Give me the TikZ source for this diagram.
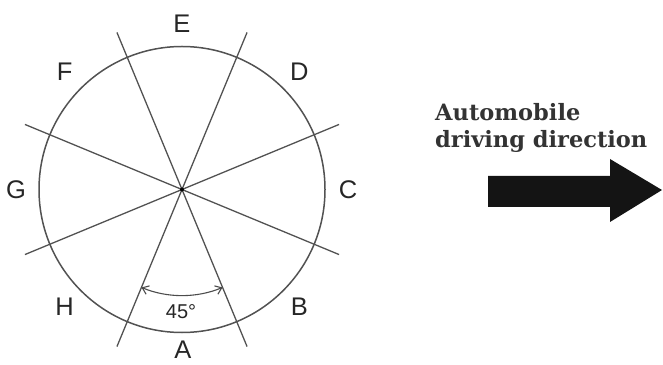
\documentclass[tikz,border=0pt]{standalone}
\usepackage{fontspec}
\setmainfont{Liberation Sans}
\newfontfamily\capfont{DejaVu Serif}
\usetikzlibrary{arrows.meta,calc}
\tikzset{
  circline/.style={draw=black!68, line width=1.5pt},
  lbl/.style={font=\fontsize{25.5}{25.5}\selectfont, text=black!85, inner sep=0pt},
  anglearc/.style={draw=black!70, line width=1.1pt, {Straight Barb[length=6pt,width=9pt]}-{Straight Barb[length=6pt,width=9pt]}},
  bigarrow/.style={fill=black!92, draw=none},
}
\begin{document}
\begin{tikzpicture}[x=1pt,y=1pt]
\useasboundingbox (0,0) rectangle (663,364);
\coordinate (c) at (182,174.5);
\draw[circline] (c) circle (143);
\foreach \a/\n in {22.5/l1,67.5/l2,112.5/l3,157.5/l4}{
  \coordinate (\n s) at ($(c)+(\a:170)$);
  \coordinate (\n e) at ($(c)+(\a+180:170)$);
  \draw[circline, line width=1.3pt] (\n s) -- (\n e);
}
\fill[black] (c) circle (2);
\foreach \a/\t in {0/C,45/D,90/E,135/F,180/G,225/H,315/B}{
  \node[lbl] (n\t) at ($(c)+(\a:166)$) {\t};
}
\node[lbl] (nA) at (183,14.5) {A};
\coordinate (arcs) at ($(c)+(247.5:106)$);
\draw[anglearc] (arcs) arc[start angle=247.5, end angle=292.5, radius=106];
\node[font=\fontsize{20}{20}\selectfont, text=black!85, inner sep=0pt] (deg) at (181,52) {45°};
\node[anchor=base west, align=left, inner sep=0pt, text=black!80,
      font=\capfont\bfseries\fontsize{22.5}{27}\selectfont] (cap) at (435,216)
      {Automobile\\driving direction};
\path[bigarrow] (488,188) -- (610,188) -- (610,205) -- (662,174) -- (610,142) -- (610,157) -- (488,157) -- cycle;
\node[inner sep=0pt] (arr) at (575,174) {};
\end{tikzpicture}
\end{document}
